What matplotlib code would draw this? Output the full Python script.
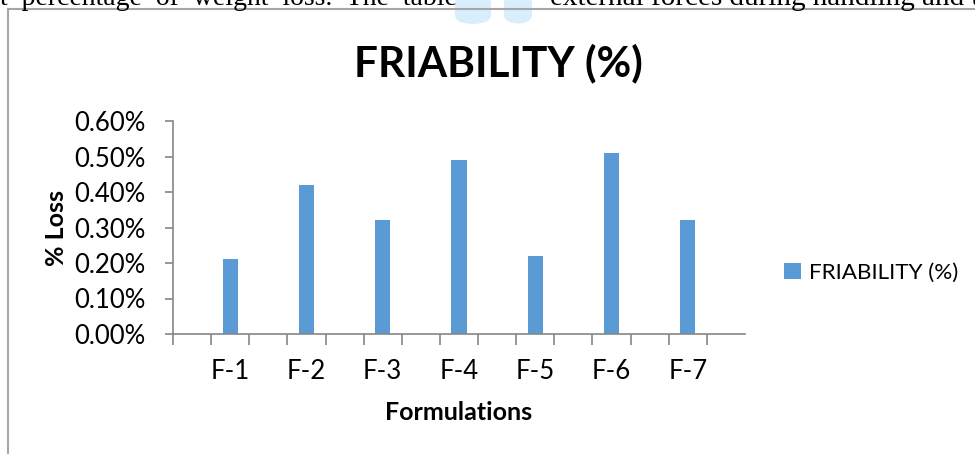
import matplotlib.pyplot as plt
from matplotlib.patches import Rectangle, FancyBboxPatch
from matplotlib.ticker import FixedLocator, FuncFormatter

formulations = ['F-1', 'F-2', 'F-3', 'F-4', 'F-5', 'F-6', 'F-7']
friability = [0.21, 0.42, 0.32, 0.49, 0.22, 0.51, 0.32]  # % loss
yticks = [0.0, 0.1, 0.2, 0.3, 0.4, 0.5, 0.6]

plt.rcParams['font.family'] = ['Lato', 'DejaVu Sans']
bar_col = '#5B9BD5'
axis_col = '#868686'

fig = plt.figure(figsize=(9.75, 4.54), dpi=100)
W, H = 975, 454

# faint logo behind the page text
for x0, w in [(455, 36), (504, 28)]:
    fig.patches.append(FancyBboxPatch((x0 / W, 1 - 24 / H), w / W, 30 / H,
                                      boxstyle='round,pad=0,rounding_size=0.02',
                                      transform=fig.transFigure, facecolor='#d9eefc',
                                      edgecolor='none', zorder=0))

# page text cut at the top and the frame of the chart
fig.text(0, 1 - 5 / H, 't  percentage  of  weight  loss.  The  table', family='Liberation Serif',
         fontsize=20, va='baseline', ha='left')
fig.text(550 / W, 1 - 5 / H, 'external forces during handling and t', family='Liberation Serif',
         fontsize=21, va='baseline', ha='left')
fig.patches.append(Rectangle((8 / W, -0.1), 1.2, 1 - 9 / H + 0.1, transform=fig.transFigure,
                             fill=False, edgecolor='#a6a6a6', linewidth=1.5))

ax = fig.add_axes([173 / W, 1 - 334 / H, (745 - 173) / W, (334 - 121) / H])
ax.patch.set_alpha(0)
x = list(range(1, len(formulations) + 1))
ax.bar(x, friability, width=0.2, color=bar_col, label='FRIABILITY (%)', zorder=2)

ax.set_xlim(0.25, len(formulations) + 0.75)
ax.set_ylim(0, 0.6)
ax.set_yticks(yticks)
ax.yaxis.set_major_formatter(FuncFormatter(lambda v, p: f'{v:.2f}%'))
ax.set_xticks(x)
ax.set_xticklabels(formulations)
ax.xaxis.set_minor_locator(FixedLocator([0.25 + 0.5 * k for k in range(2 * len(formulations) + 1)]))

for s in ['top', 'right']:
    ax.spines[s].set_visible(False)
for s in ['left', 'bottom']:
    ax.spines[s].set_color(axis_col)
    ax.spines[s].set_linewidth(1.2)

ax.tick_params(axis='y', length=6, width=1.2, color=axis_col, labelsize=18.5, pad=14)
ax.tick_params(axis='x', which='major', length=0, labelsize=18.5, pad=18)
ax.tick_params(axis='x', which='minor', length=8, width=1.2, color=axis_col)

ax.set_xlabel('Formulations', fontsize=18, fontweight='bold', labelpad=12)
ax.set_ylabel('% Loss', fontsize=18, fontweight='bold', labelpad=4)
fig.text(498 / W, 1 - 63 / H, 'FRIABILITY (%)', fontsize=30.5, fontweight='bold',
         ha='center', va='center')

ax.legend(loc='center left', bbox_to_anchor=(764 / W, 1 - 273 / H),
          bbox_transform=fig.transFigure, frameon=False, fontsize=16.2,
          handlelength=0.75, handleheight=0.75, handletextpad=0.35)

fig.savefig('out.png', dpi=100)
